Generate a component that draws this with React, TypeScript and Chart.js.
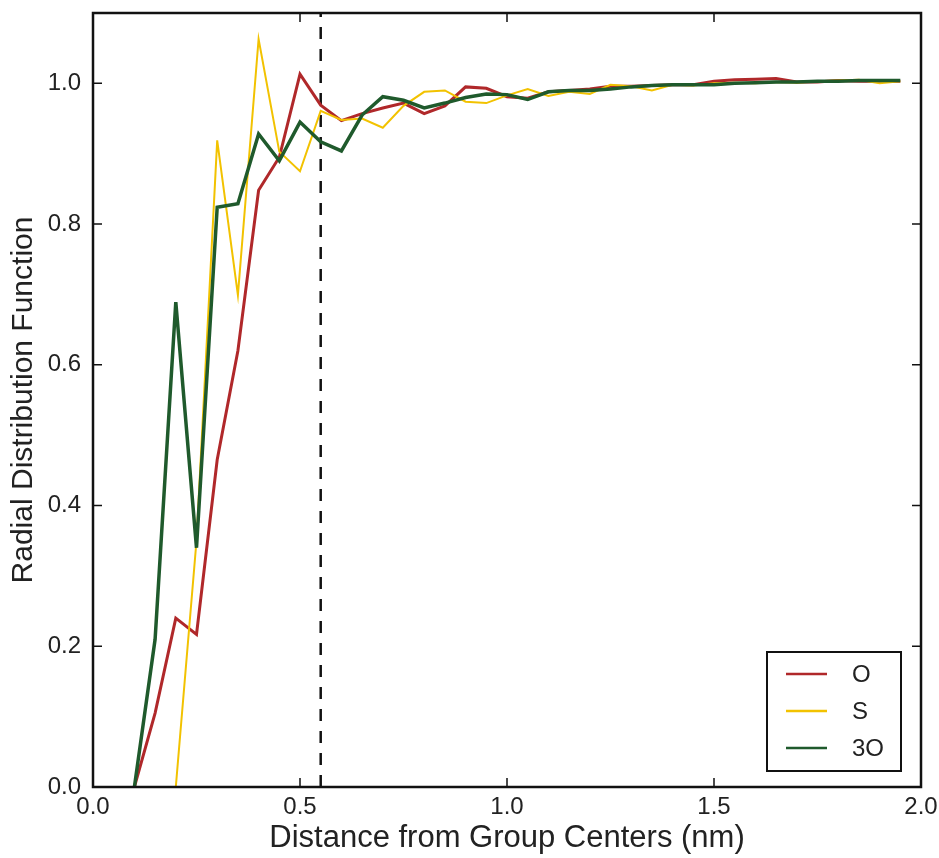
import React, { useEffect, useRef } from "react";
import { Chart, registerables } from "chart.js";

Chart.register(...registerables);

const distances = [
  0.1, 0.15, 0.2, 0.25, 0.3, 0.35, 0.4, 0.45, 0.5, 0.55, 0.6, 0.65, 0.7, 0.75,
  0.8, 0.85, 0.9, 0.95, 1.0, 1.05, 1.1, 1.15, 1.2, 1.25, 1.3, 1.35, 1.4, 1.45,
  1.5, 1.55, 1.6, 1.65, 1.7, 1.75, 1.8, 1.85, 1.9, 1.95,
];

const seriesO = [
  0, 0.105, 0.24, 0.217, 0.465, 0.62, 0.848, 0.895, 1.013, 0.969, 0.947, 0.957,
  0.965, 0.972, 0.957, 0.968, 0.995, 0.993, 0.981, 0.979, 0.988, 0.99, 0.992,
  0.996, 0.996, 0.997, 0.998, 0.998, 1.003, 1.005, 1.006, 1.007, 1.002, 1.002,
  1.004, 1.003, 1.003, 1.003,
];

const seriesS = [
  null, null, 0, 0.35, 0.919, 0.699, 1.063, 0.903, 0.875, 0.961, 0.948, 0.95,
  0.937, 0.968, 0.988, 0.99, 0.974, 0.972, 0.983, 0.992, 0.982, 0.988, 0.985,
  0.998, 0.996, 0.99, 0.998, 0.997, 1.0, 1.001, 1.0, 1.002, 1.001, 1.003, 1.004,
  1.005, 1.0, 1.003,
];

const series3O = [
  0, 0.21, 0.689, 0.34, 0.824, 0.829, 0.928, 0.89, 0.945, 0.917, 0.904, 0.955,
  0.981, 0.976, 0.965, 0.972, 0.98, 0.985, 0.984, 0.977, 0.988, 0.99, 0.99,
  0.992, 0.995, 0.997, 0.998, 0.998, 0.998, 1.0, 1.001, 1.002, 1.002, 1.003,
  1.003, 1.004, 1.004, 1.004,
];

const seriesLabels = ["O", "S", "3O"];
const seriesColors = ["#b0282a", "#f2c200", "#1f5a2c"];
const seriesWidths = [3, 2, 3.5];
const cutoff = 0.55;
const xTicks = [0, 0.5, 1.0, 1.5, 2.0];
const yTicks = [0, 0.2, 0.4, 0.6, 0.8, 1.0];

const FONT = "'Liberation Sans', Arial, Helvetica, sans-serif";

const framePlugin = {
  id: "frameTicks",
  afterDraw(chart: any) {
    const { ctx, chartArea: a, scales } = chart;
    ctx.save();
    ctx.strokeStyle = "#111";
    ctx.lineWidth = 1.5;
    const tl = 9;
    scales.x.ticks.forEach((t: any) => {
      const px = scales.x.getPixelForValue(t.value);
      ctx.beginPath();
      ctx.moveTo(px, a.bottom);
      ctx.lineTo(px, a.bottom - tl);
      ctx.moveTo(px, a.top);
      ctx.lineTo(px, a.top + tl);
      ctx.stroke();
    });
    scales.y.ticks.forEach((t: any) => {
      const py = scales.y.getPixelForValue(t.value);
      ctx.beginPath();
      ctx.moveTo(a.left, py);
      ctx.lineTo(a.left + tl, py);
      ctx.moveTo(a.right, py);
      ctx.lineTo(a.right - tl, py);
      ctx.stroke();
    });
    ctx.lineWidth = 2.5;
    ctx.strokeStyle = "#111";
    ctx.strokeRect(a.left, a.top, a.right - a.left, a.bottom - a.top);

    // legend box
    const items = chart.data.datasets.filter((d: any) => !d.isRef);
    const bw = 134;
    const bh = 119;
    const bx = a.right - 20 - bw;
    const by = a.bottom - 16 - bh;
    ctx.fillStyle = "#fff";
    ctx.fillRect(bx, by, bw, bh);
    ctx.lineWidth = 2;
    ctx.strokeRect(bx, by, bw, bh);
    ctx.font = `24px ${FONT}`;
    ctx.textBaseline = "middle";
    items.forEach((d: any, i: number) => {
      const y = by + 22 + i * 37;
      ctx.strokeStyle = d.borderColor;
      ctx.lineWidth = 2.5;
      ctx.beginPath();
      ctx.moveTo(bx + 19, y);
      ctx.lineTo(bx + 60, y);
      ctx.stroke();
      ctx.fillStyle = "#222";
      ctx.fillText(d.label, bx + 85, y + 1);
    });
    ctx.restore();
  },
};

export default function App() {
  const ref = useRef<HTMLCanvasElement | null>(null);

  useEffect(() => {
    if (!ref.current) return;
    const seriesData = [seriesO, seriesS, series3O];
    const datasets: any[] = seriesData.map((s, i) => ({
      label: seriesLabels[i],
      data: distances.map((x, j) => ({ x, y: s[j] })),
      borderColor: seriesColors[i],
      backgroundColor: seriesColors[i],
      borderWidth: seriesWidths[i],
      pointRadius: 0,
      tension: 0,
      spanGaps: false,
      order: 3 - i,
    }));
    datasets.push({
      label: "cutoff",
      isRef: true,
      data: [
        { x: cutoff, y: 0 },
        { x: cutoff, y: 1.1 },
      ],
      borderColor: "#111",
      borderWidth: 2.5,
      borderDash: [12, 10],
      pointRadius: 0,
      order: 10,
    });

    const chart = new Chart(ref.current, {
      type: "line",
      data: { datasets },
      options: {
        animation: false,
        responsive: false,
        maintainAspectRatio: false,
        layout: { padding: { top: 13, right: 18, left: 0, bottom: 0 } },
        plugins: { legend: { display: false }, tooltip: { enabled: false } },
        scales: {
          x: {
            type: "linear",
            min: 0,
            max: 2,
            afterBuildTicks: (s: any) => {
              s.ticks = xTicks.map((v) => ({ value: v }));
            },
            afterFit: (s: any) => {
              s.height = 71;
              s.paddingLeft = 0;
              s.paddingRight = 0;
              s.paddingTop = 0;
              s.paddingBottom = 0;
            },
            ticks: {
              padding: 6,
              color: "#222",
              font: { family: FONT, size: 24 },
              callback: (v: any) => Number(v).toFixed(1),
              maxRotation: 0,
              autoSkip: false,
            },
            grid: { display: false, drawTicks: false },
            border: { display: false },
            title: {
              display: true,
              text: "Distance from Group Centers (nm)",
              color: "#222",
              font: { family: FONT, size: 31 },
              padding: { top: 0, bottom: 1 },
            },
          },
          y: {
            type: "linear",
            min: 0,
            max: 1.1,
            afterBuildTicks: (s: any) => {
              s.ticks = yTicks.map((v) => ({ value: v }));
            },
            afterFit: (s: any) => {
              s.width = 93;
              s.paddingLeft = 0;
              s.paddingRight = 0;
              s.paddingTop = 0;
              s.paddingBottom = 0;
            },
            ticks: {
              padding: 12,
              color: "#222",
              font: { family: FONT, size: 24 },
              callback: (v: any) => Number(v).toFixed(1),
              autoSkip: false,
            },
            grid: { display: false, drawTicks: false },
            border: { display: false },
            title: {
              display: true,
              text: "Radial Distribution Function",
              color: "#222",
              font: { family: FONT, size: 30 },
              padding: { top: 6, bottom: 4 },
            },
          },
        },
      } as any,
      plugins: [framePlugin],
    });
    return () => chart.destroy();
  }, []);

  return (
    <div style={{ position: "fixed", left: 0, top: 0, width: 939, height: 858, background: "#fff" }}>
      <canvas ref={ref} width={939} height={858} style={{ width: 939, height: 858, display: "block" }} />
    </div>
  );
}
